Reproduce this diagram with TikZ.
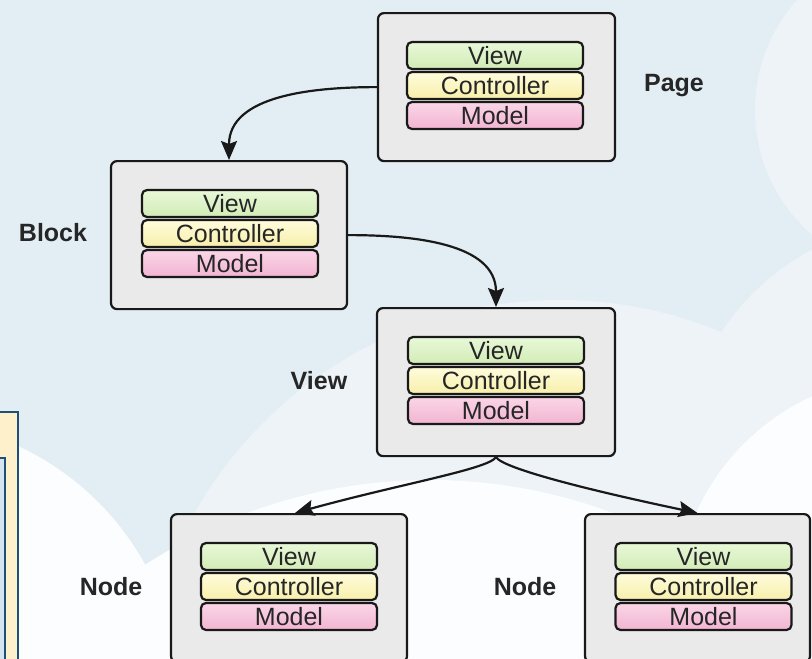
\documentclass[tikz,border=0pt]{standalone}
\usepackage{fontspec}
\setmainfont{Liberation Sans}
\usetikzlibrary{arrows.meta,calc}
\definecolor{bgblue}{HTML}{E3EEF4}
\definecolor{bglight}{HTML}{EEF3F8}
\definecolor{bgwhite}{HTML}{FCFDFE}
\definecolor{boxgray}{HTML}{EAEAEA}
\definecolor{viewtop}{HTML}{E8F8D8}
\definecolor{viewbot}{HTML}{D2ECB6}
\definecolor{ctrltop}{HTML}{FFFCDC}
\definecolor{ctrlbot}{HTML}{F7EFAA}
\definecolor{modeltop}{HTML}{FAD6E7}
\definecolor{modelbot}{HTML}{F2B4D2}
\definecolor{navy}{HTML}{1F4E79}
\definecolor{cream}{HTML}{FFF0CC}
\definecolor{paleblue}{HTML}{D6E4F0}
\tikzset{
  outerbox/.style={draw=black!90, line width=2.2pt, rounded corners=6pt, fill=boxgray,
    minimum height=148pt, inner sep=0pt},
  barbox/.style={draw=black!90, line width=2.2pt, rounded corners=5pt,
    minimum width=176pt, minimum height=27pt, inner sep=0pt,
    font=\fontsize{25}{25}\selectfont, text=black!85},
  viewbar/.style={barbox, top color=viewtop, bottom color=viewbot},
  ctrlbar/.style={barbox, top color=ctrltop, bottom color=ctrlbot},
  modelbar/.style={barbox, top color=modeltop, bottom color=modelbot},
  lvl/.style={font=\fontsize{25}{25}\selectfont\bfseries, text=black!85},
  conn/.style={draw=black!90, line width=2.2pt, -{Stealth[length=19pt,width=16pt,inset=3pt]}}
}
\newcommand\mvcstack[5]{%
  \node[outerbox, minimum width=#5, anchor=north] (#1) at (#2,#4) {};
  \node[viewbar] (#1v) at (#3,#4+43.5) {View};
  \node[ctrlbar] (#1c) at (#3,#4+73.5) {Controller};
  \node[modelbar] (#1m) at (#3,#4+103.5) {Model};
}
\begin{document}
\begin{tikzpicture}[x=1pt,y=-1pt]
\useasboundingbox (0,0) rectangle (812,659);
\begin{scope}
\clip (0,0) rectangle (812,659);
\fill[bgblue] (0,0) rectangle (812,659);
% lighter cloud areas
\fill[bglight] (560,720) circle (420);
\fill[bglight] (920,110) circle (165);
\fill[bglight] (930,470) circle (250);
% white areas
\fill[bgwhite] (-100,700) circle (280);
\fill[bgwhite] (430,1000) circle (520);
\fill[bgwhite] (910,610) circle (235);
% partial box at left edge
\draw[navy, line width=2pt, fill=cream] (-5,412) rectangle (18,680);
\draw[navy, line width=1.5pt, fill=paleblue] (-5,458) rectangle (5,680);
\end{scope}

\mvcstack{page}{496.5}{495}{12}{237pt}
\mvcstack{block}{229}{230}{160}{236pt}
\mvcstack{view}{496}{496}{307}{238pt}
\mvcstack{nodea}{289}{289}{513}{236pt}
\mvcstack{nodeb}{697.5}{703.5}{513}{225pt}

\node[lvl] (lpage) at (674,86) {Page};
\node[lvl] (lblock) at (53,233) {Block};
\node[lvl] (lview) at (319,381) {View};
\node[lvl] (lnodea) at (111,587) {Node};
\node[lvl] (lnodeb) at (525,587) {Node};

\draw[conn] (page.west) to[out=180,in=90] (block.north);
\draw[conn] (block.east) to[out=0,in=90] (view.north);
\draw[conn] (view.south) .. controls ($(view.south)+(-8,12)$) and ($(nodea.north)+(111,-29)$) .. ([xshift=6pt]nodea.north);
\draw[conn] (view.south) .. controls ($(view.south)+(8,12)$) and ($(nodeb.north)+(-100,-21)$) .. (nodeb.north);
\end{tikzpicture}
\end{document}
